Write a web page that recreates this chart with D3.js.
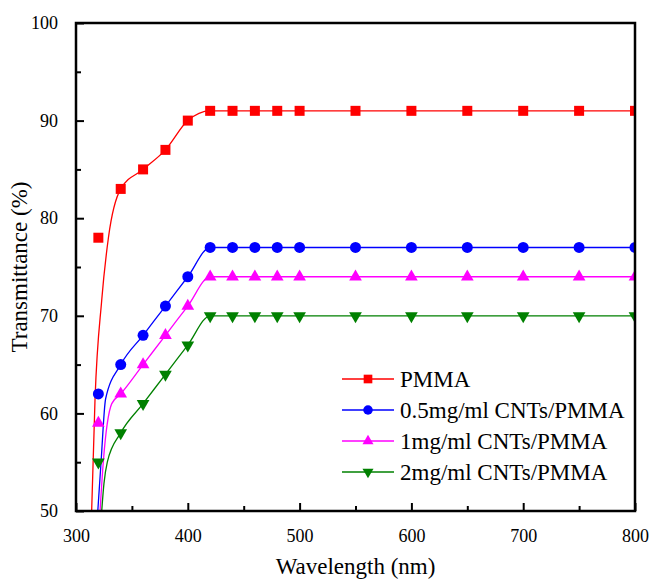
<!DOCTYPE html>
<html>
<head>
<meta charset="utf-8">
<script src="https://cdn.jsdelivr.net/npm/d3@7"></script>
<style>
  body { margin: 0; background: #fff; }
  text { font-family: "Liberation Serif", "Times New Roman", serif; fill: #000; }
</style>
</head>
<body>
<svg id="chart" width="651" height="580"></svg>
<script>
/* global d3 */
const wavelengths = [320, 340, 360, 380, 400, 420, 440, 460, 480, 500, 550, 600, 650, 700, 750, 800]
const pmma = [78, 83, 85, 87, 90, 91, 91, 91, 91, 91, 91, 91, 91, 91, 91, 91]
const cnt05 = [62, 65, 68, 71, 74, 77, 77, 77, 77, 77, 77, 77, 77, 77, 77, 77]
const cnt1 = [59, 62, 65, 68, 71, 74, 74, 74, 74, 74, 74, 74, 74, 74, 74, 74]
const cnt2 = [55, 58, 61, 64, 67, 70, 70, 70, 70, 70, 70, 70, 70, 70, 70, 70]
// start of each fitted curve: [wavelength, %]
const pmmaHead = [[314, 50], [317, 61.4], [323, 71.6], [329, 78]]
const cnt05Head = [[319.5, 50], [322.4, 55], [326.5, 61.5]]
const cnt1Head = [[321.5, 50], [324.4, 55], [332, 61]]
const cnt2Head = [[323, 50], [325, 52.8], [328, 55]]
const seriesNames = ['PMMA', '0.5mg/ml CNTs/PMMA', '1mg/ml CNTs/PMMA', '2mg/ml CNTs/PMMA']
const xTicks = [300, 400, 500, 600, 700, 800]
const yTicks = [50, 60, 70, 80, 90, 100]

const width = 651
const height = 580
const margin = { top: 23, right: 16, bottom: 69, left: 76 }

const series = [
  { name: seriesNames[0], values: pmma, head: pmmaHead, color: '#ff0000', symbol: d3.symbolSquare, size: 100, rot: 0 },
  { name: seriesNames[1], values: cnt05, head: cnt05Head, color: '#0000ff', symbol: d3.symbolCircle, size: 95, rot: 0 },
  { name: seriesNames[2], values: cnt1, head: cnt1Head, color: '#ff00ff', symbol: d3.symbolTriangle, size: 70, rot: 0 },
  { name: seriesNames[3], values: cnt2, head: cnt2Head, color: '#008000', symbol: d3.symbolTriangle, size: 70, rot: 180 }
]

const xScale = d3.scaleLinear().domain([300, 800]).range([margin.left, width - margin.right])
const yScale = d3.scaleLinear().domain([50, 100]).range([height - margin.bottom, margin.top])

const svg = d3.select('#chart')

svg.append('defs')
  .append('clipPath')
  .attr('id', 'plot-clip')
  .append('rect')
  .attr('x', margin.left)
  .attr('y', margin.top)
  .attr('width', width - margin.left - margin.right)
  .attr('height', height - margin.top - margin.bottom)

const line = d3.line()
  .x(d => xScale(d[0]))
  .y(d => yScale(d[1]))
  .curve(d3.curveMonotoneX)

const plot = svg.append('g').attr('clip-path', 'url(#plot-clip)')

series.forEach(s => {
  const pts = wavelengths.map((w, i) => [w, s.values[i]])
  // fitted curve passes through the head points then markers from 340 on
  const curve = s.head.concat(pts.slice(1))
  plot.append('path')
    .attr('d', line(curve))
    .attr('fill', 'none')
    .attr('stroke', s.color)
    .attr('stroke-width', 1.3)

  plot.selectAll(null)
    .data(pts)
    .enter()
    .append('path')
    .attr('d', d3.symbol().type(s.symbol).size(s.size))
    .attr('transform', d => `translate(${xScale(d[0])},${yScale(d[1])}) rotate(${s.rot})`)
    .attr('fill', s.color)
})

// axes, ticks inward
const xAxis = d3.axisBottom(xScale).tickValues(xTicks).tickSizeInner(-8).tickSizeOuter(0).tickPadding(18)
const xMinor = d3.axisBottom(xScale).tickValues([350, 450, 550, 650, 750]).tickSize(-5).tickFormat('')
const yAxis = d3.axisLeft(yScale).tickValues(yTicks).tickSizeInner(-8).tickSizeOuter(0).tickPadding(18)
const yMinor = d3.axisLeft(yScale).tickValues([55, 65, 75, 85, 95]).tickSize(-5).tickFormat('')

const gx = svg.append('g').attr('transform', `translate(0,${height - margin.bottom})`).call(xAxis)
svg.append('g').attr('transform', `translate(0,${height - margin.bottom})`).call(xMinor)
const gy = svg.append('g').attr('transform', `translate(${margin.left},0)`).call(yAxis)
svg.append('g').attr('transform', `translate(${margin.left},0)`).call(yMinor)

svg.selectAll('.domain').remove()
svg.selectAll('.tick line').attr('stroke', '#000').attr('stroke-width', 2)
gx.selectAll('text').attr('font-size', 18)
gy.selectAll('text').attr('font-size', 18)

// frame
svg.append('rect')
  .attr('x', margin.left)
  .attr('y', margin.top)
  .attr('width', width - margin.left - margin.right)
  .attr('height', height - margin.top - margin.bottom)
  .attr('fill', 'none')
  .attr('stroke', '#000')
  .attr('stroke-width', 2.5)

svg.append('text')
  .attr('x', (margin.left + width - margin.right) / 2)
  .attr('y', 574)
  .attr('text-anchor', 'middle')
  .attr('font-size', 23)
  .text('Wavelength (nm)')

svg.append('text')
  .attr('transform', `translate(27,${(margin.top + height - margin.bottom) / 2}) rotate(-90)`)
  .attr('text-anchor', 'middle')
  .attr('font-size', 23)
  .text('Transmittance (%)')

// legend
const legend = svg.append('g').attr('transform', 'translate(342,379)')
series.forEach((s, i) => {
  const row = legend.append('g').attr('transform', `translate(0,${i * 31})`)
  row.append('line')
    .attr('x1', 0).attr('x2', 52)
    .attr('stroke', s.color).attr('stroke-width', 1.3)
  row.append('path')
    .attr('d', d3.symbol().type(s.symbol).size(s.size * 0.75))
    .attr('transform', `translate(26,0) rotate(${s.rot})`)
    .attr('fill', s.color)
  row.append('text')
    .attr('x', 58)
    .attr('dy', '0.35em')
    .attr('font-size', 23)
    .text(s.name)
})
</script>
</body>
</html>
